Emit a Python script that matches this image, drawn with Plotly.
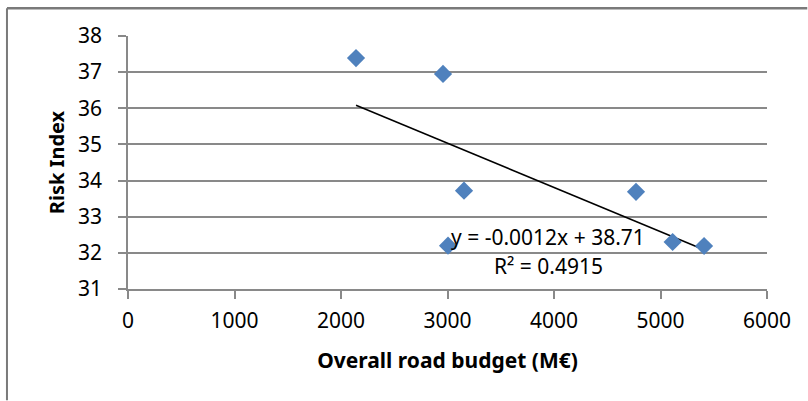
import numpy as np
import plotly.graph_objects as go

budget = [2141, 2958, 3155, 3005, 4770, 5114, 5409]
risk = [37.39, 36.95, 33.72, 32.20, 33.69, 32.30, 32.19]
x_ticks = [0, 1000, 2000, 3000, 4000, 5000, 6000]
y_ticks = [31, 32, 33, 34, 35, 36, 37, 38]
eq_label = "y = -0.0012x + 38.71"
r2_label = "R² = 0.4915"

slope, intercept = np.polyfit(budget, risk, 1)
tx = [min(budget), max(budget)]
ty = [slope * v + intercept for v in tx]

FONT = "Noto Sans"
GRID = "#898989"
BORDER = "#7a7a7a"

fig = go.Figure()
fig.add_trace(go.Scatter(x=tx, y=ty, mode="lines",
                         line=dict(color="black", width=1.5), hoverinfo="skip"))
fig.add_trace(go.Scatter(x=budget, y=risk, mode="markers",
                         marker=dict(symbol="diamond", size=14, color="#4F81BD",
                                     line=dict(width=0))))

fig.add_annotation(x=3944, y=32.45, xref="x", yref="y", text=eq_label,
                   showarrow=False, font=dict(family=FONT, size=21, color="black"))
fig.add_annotation(x=3944, y=31.63, xref="x", yref="y", text=r2_label,
                   showarrow=False, font=dict(family=FONT, size=21, color="black"))

# outer chart border: only its left and top edges fall inside the picture
fig.add_shape(type="line", xref="paper", yref="paper",
              x0=-0.1894, x1=1.063, y0=1.11, y1=1.11,
              line=dict(color=BORDER, width=2.5), layer="above")
fig.add_shape(type="line", xref="paper", yref="paper",
              x0=-0.1894, x1=-0.1894, y0=1.11, y1=-0.44,
              line=dict(color=BORDER, width=2), layer="above")

fig.update_layout(
    width=808, height=401,
    margin=dict(l=128, r=41, t=36, b=112, autoexpand=False),
    paper_bgcolor="white", plot_bgcolor="white",
    showlegend=False,
    font=dict(family=FONT, size=21, color="black"),
)
fig.update_xaxes(
    range=[0, 6000], tickvals=x_ticks, ticktext=[str(v) for v in x_ticks],
    showgrid=False, zeroline=False,
    showline=True, linecolor=GRID, linewidth=1.5,
    ticks="outside", ticklen=8, tickcolor=GRID, tickwidth=1.5,
    tickfont=dict(family=FONT, size=21), ticklabelstandoff=4,
    title=dict(text="<b>Overall road budget (M€)</b>", font=dict(family=FONT, size=21), standoff=20),
)
fig.update_yaxes(
    range=[31, 38], tickvals=y_ticks, ticktext=[str(v) for v in y_ticks],
    showgrid=True, gridcolor=GRID, gridwidth=1.5, zeroline=False,
    showline=True, linecolor=GRID, linewidth=1.5,
    ticks="outside", ticklen=8, tickcolor=GRID, tickwidth=1.5,
    tickfont=dict(family=FONT, size=21), ticklabelstandoff=12,
    title=dict(text="<b>Risk Index</b>", font=dict(family=FONT, size=20), standoff=8),
)

fig.write_html("out.html", config={"displayModeBar": False},
               post_script="document.body.style.margin='0';document.body.style.overflow='hidden';")
